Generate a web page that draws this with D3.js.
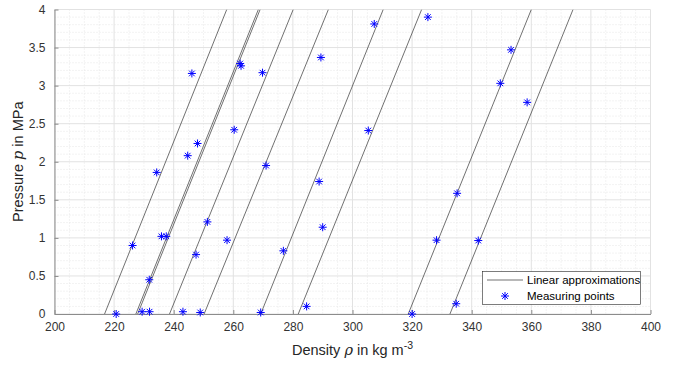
<!DOCTYPE html>
<html>
<head>
<meta charset="utf-8">
<script src="https://cdn.jsdelivr.net/npm/d3@7"></script>
<style>
  body { margin: 0; background: #fff; }
  svg { display: block; font-family: "Liberation Sans", Arial, sans-serif; }
</style>
</head>
<body>
<svg id="chart" width="682" height="365"></svg>
<script>
// linear approximations: density at p = 0 and at p = 4 MPa
const lineRhoAtP0 = [216.8, 227.3, 227.9, 238.6, 250.2, 269.2, 281.8, 318.7, 332.7];
const lineRhoAtP4 = [257.8, 268.4, 269.0, 280.1, 291.9, 310.3, 323.2, 360.0, 374.0];

// measuring points
const pointRho = [220.7, 226.2, 229.4, 231.9, 231.8, 234.3, 235.9, 237.5, 243.1, 244.7,
                  246.1, 247.5, 248.0, 248.9, 251.3, 257.9, 260.3, 262.3, 262.6, 269.2,
                  269.8, 271.0, 276.8, 284.6, 288.8, 289.4, 290.0, 305.3, 307.3, 320.0,
                  325.3, 328.2, 334.8, 335.1, 342.2, 349.6, 353.2, 358.6];
const pointP   = [0.00, 0.90, 0.03, 0.03, 0.45, 1.86, 1.02, 1.02, 0.03, 2.08,
                  3.16, 0.78, 2.24, 0.02, 1.21, 0.97, 2.42, 3.29, 3.26, 0.02,
                  3.17, 1.95, 0.83, 0.10, 1.74, 3.37, 1.14, 2.41, 3.81, 0.00,
                  3.90, 0.97, 0.135, 1.585, 0.965, 3.03, 3.47, 2.78];

const xTicks = [200, 220, 240, 260, 280, 300, 320, 340, 360, 380, 400];
const yTicks = [0, 0.5, 1, 1.5, 2, 2.5, 3, 3.5, 4];
const yTickLabels = ["0", "0.5", "1", "1.5", "2", "2.5", "3", "3.5", "4"];

const svg = d3.select("#chart");
const area = { left: 54.5, right: 650.5, top: 9.5, bottom: 314 };

const x = d3.scaleLinear().domain([200, 400]).range([area.left, area.right]);
const y = d3.scaleLinear().domain([0, 4]).range([area.bottom, area.top]);

svg.append("defs").append("clipPath").attr("id", "clip")
  .append("rect")
  .attr("x", area.left).attr("y", area.top)
  .attr("width", area.right - area.left).attr("height", area.bottom - area.top);

// minor grid
const grid = svg.append("g");
grid.selectAll(".mx")
  .data(d3.range(200, 400.01, 5).filter(v => v % 20 !== 0))
  .join("line")
  .attr("x1", d => x(d)).attr("x2", d => x(d))
  .attr("y1", area.top).attr("y2", area.bottom)
  .attr("stroke", "#e6e6e6").attr("stroke-dasharray", "1,2");
grid.selectAll(".my")
  .data(d3.range(0, 40.01, 1).filter(v => v % 5 !== 0).map(v => v / 10))
  .join("line")
  .attr("x1", area.left).attr("x2", area.right)
  .attr("y1", d => y(d)).attr("y2", d => y(d))
  .attr("stroke", "#e6e6e6").attr("stroke-dasharray", "1,2");

// major grid
grid.selectAll(".gx")
  .data(xTicks)
  .join("line")
  .attr("x1", d => x(d)).attr("x2", d => x(d))
  .attr("y1", area.top).attr("y2", area.bottom)
  .attr("stroke", "#e2e2e2");
grid.selectAll(".gy")
  .data(yTicks)
  .join("line")
  .attr("x1", area.left).attr("x2", area.right)
  .attr("y1", d => y(d)).attr("y2", d => y(d))
  .attr("stroke", "#e2e2e2");

// axes
const xAxis = d3.axisBottom(x).tickValues(xTicks).tickSizeInner(-4).tickSizeOuter(0).tickPadding(8);
const yAxis = d3.axisLeft(y).tickValues(yTicks).tickFormat((d, i) => yTickLabels[i])
  .tickSizeInner(-4).tickSizeOuter(0).tickPadding(9);

const gx = svg.append("g").attr("transform", `translate(0,${area.bottom})`).call(xAxis);
const gy = svg.append("g").attr("transform", `translate(${area.left},0)`).call(yAxis);

[gx, gy].forEach(g => {
  g.select(".domain").attr("stroke", "#8c8c8c");
  g.selectAll(".tick line").attr("stroke", "#8c8c8c");
  g.selectAll(".tick text")
    .attr("fill", "#333")
    .style("font-size", "12px")
    .style("font-family", "'Liberation Sans', Arial, sans-serif");
});

// linear approximations
const plot = svg.append("g").attr("clip-path", "url(#clip)");
plot.selectAll(".fit")
  .data(lineRhoAtP0.map((r, i) => [[r, 0], [lineRhoAtP4[i], 4]]))
  .join("path")
  .attr("d", d3.line().x(d => x(d[0])).y(d => y(d[1])))
  .attr("fill", "none")
  .attr("stroke", "#333")
  .attr("stroke-width", 0.7);

// asterisk marker
function star(g, r) {
  const a = r * Math.SQRT1_2;
  const segs = [[-r, 0, r, 0], [0, -r, 0, r], [-a, -a, a, a], [-a, a, a, -a]];
  g.selectAll("line").data(segs).join("line")
    .attr("x1", s => s[0]).attr("y1", s => s[1])
    .attr("x2", s => s[2]).attr("y2", s => s[3])
    .attr("stroke", "#0000ff").attr("stroke-width", 1);
}

svg.append("g").selectAll("g")
  .data(pointRho.map((r, i) => ({ rho: r, p: pointP[i] })))
  .join("g")
  .attr("transform", d => `translate(${x(d.rho)},${y(d.p)})`)
  .each(function () { star(d3.select(this), 4); });

// axis labels
svg.append("text")
  .attr("x", (area.left + area.right) / 2)
  .attr("y", 355)
  .attr("text-anchor", "middle")
  .attr("fill", "#262626")
  .style("font-size", "14.5px")
  .html('Density <tspan font-family="DejaVu Serif" font-style="italic">ρ</tspan> in kg m<tspan dy="-6" font-size="10.5px">-3</tspan>');

svg.append("text")
  .attr("transform", `translate(23,${(area.top + area.bottom) / 2}) rotate(-90)`)
  .attr("text-anchor", "middle")
  .attr("fill", "#262626")
  .style("font-size", "14.5px")
  .html('Pressure <tspan font-family="DejaVu Serif" font-style="italic">p</tspan> in MPa');

// legend
const legend = svg.append("g");
legend.append("rect")
  .attr("x", 482.5).attr("y", 271.5)
  .attr("width", 158).attr("height", 33)
  .attr("fill", "#fff").attr("stroke", "#262626").attr("stroke-width", 0.6);
legend.append("line")
  .attr("x1", 487).attr("x2", 523).attr("y1", 280).attr("y2", 280)
  .attr("stroke", "#333").attr("stroke-width", 0.7);
const lstar = legend.append("g").attr("transform", "translate(505,296)");
star(lstar, 4);
legend.selectAll(".lt")
  .data(["Linear approximations", "Measuring points"])
  .join("text")
  .attr("x", 527)
  .attr("y", (d, i) => 284 + i * 16)
  .attr("fill", "#000")
  .style("font-size", "11.5px")
  .text(d => d);
</script>
</body>
</html>
